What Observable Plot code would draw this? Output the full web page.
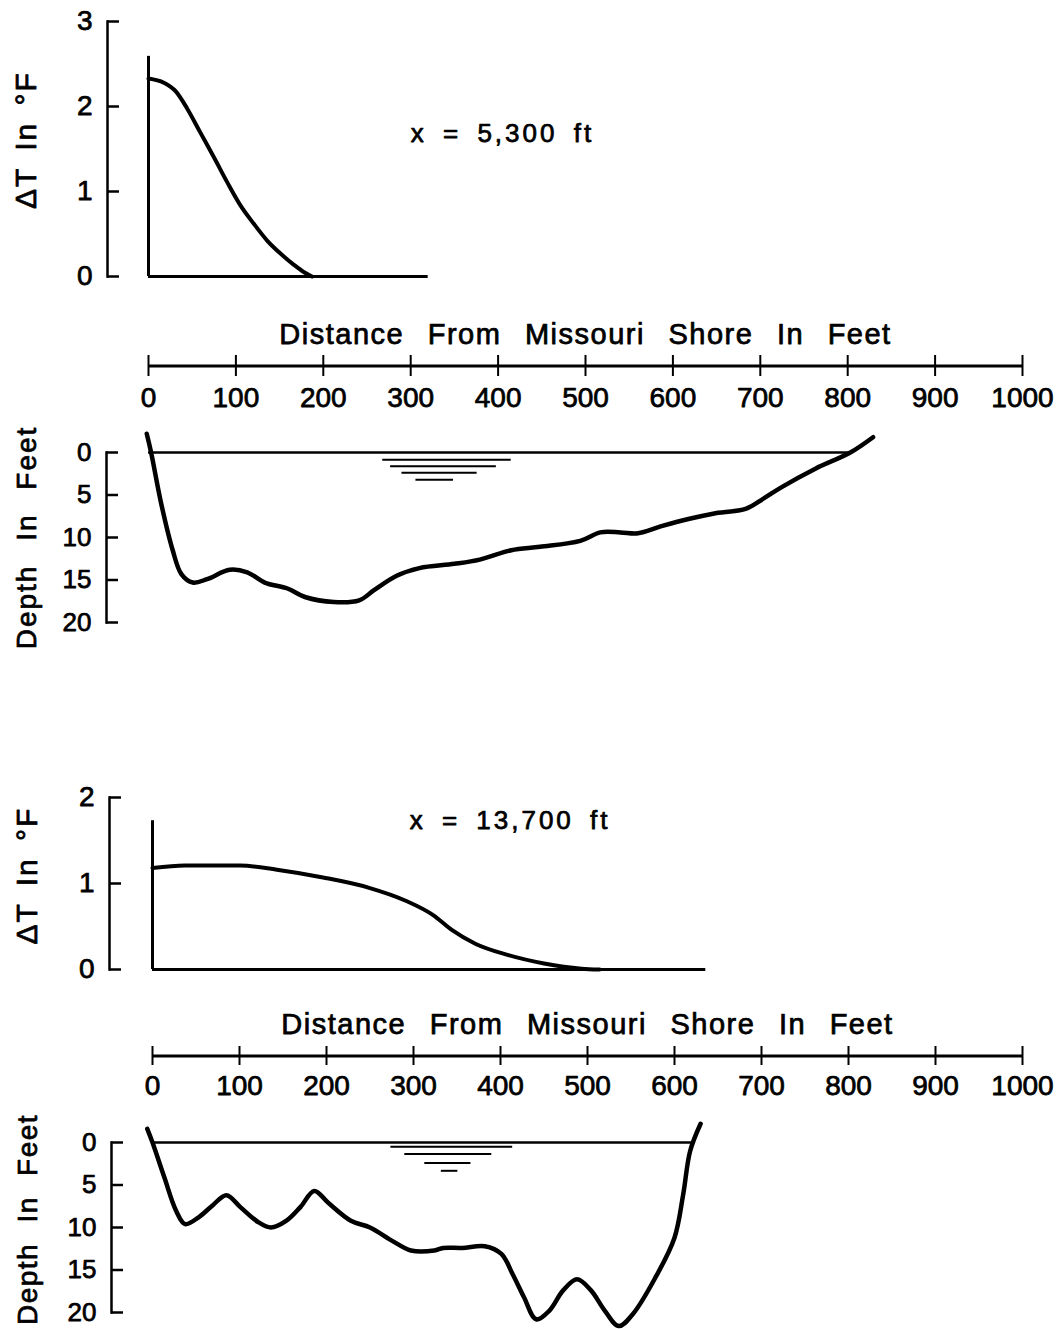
<!DOCTYPE html>
<html>
<head>
<meta charset="utf-8">
<script src="https://cdn.jsdelivr.net/npm/d3@7"></script>
<script src="https://cdn.jsdelivr.net/npm/@observablehq/plot@0.6"></script>
<style>
  html, body { margin: 0; padding: 0; background: #fff; }
  #figure { position: relative; width: 1064px; height: 1329px; overflow: hidden; background: #fff; }
  #figure svg { position: absolute; left: 0; }
</style>
</head>
<body>
<div id="figure"></div>
<script>
// ---- Tick values ----
const distanceTicks = [0, 100, 200, 300, 400, 500, 600, 700, 800, 900, 1000];
const tempTicksUpper = [0, 1, 2, 3];
const tempTicksLower = [0, 1, 2];
const depthTicks = [0, 5, 10, 15, 20];

// ---- Section at x = 5,300 ft ----
// excess temperature (°F) vs. distance from the Missouri shore (ft)
const tempUpper = [
  {d: 0, t: 2.33}, {d: 17.5, t: 2.28}, {d: 31, t: 2.18}, {d: 44, t: 1.98},
  {d: 59.5, t: 1.69}, {d: 75, t: 1.40}, {d: 90, t: 1.11}, {d: 105, t: 0.84},
  {d: 120.5, t: 0.62}, {d: 136, t: 0.42}, {d: 151, t: 0.27}, {d: 166, t: 0.14},
  {d: 178, t: 0.05}, {d: 187, t: 0}
];
const tempUpperWall = [2.59];     // ΔT at the shore line
const tempUpperReach = [320];     // extent of the zero line (ft)

// river bed depth (ft) vs. distance (ft)
const bedUpper = [
  {d: -2, z: -2.2}, {d: 3, z: 0}, {d: 14.5, z: 6.0}, {d: 27.7, z: 11.5}, {d: 37.6, z: 14.3},
  {d: 50.7, z: 15.3}, {d: 67, z: 14.9}, {d: 93, z: 13.8}, {d: 113, z: 14.1}, {d: 133, z: 15.3},
  {d: 159, z: 16.0}, {d: 179, z: 17.0}, {d: 212, z: 17.6}, {d: 241, z: 17.4}, {d: 258, z: 16.2},
  {d: 284, z: 14.5}, {d: 310, z: 13.6}, {d: 350, z: 13.1}, {d: 379, z: 12.6}, {d: 415, z: 11.5},
  {d: 448, z: 11.1}, {d: 494, z: 10.4}, {d: 517, z: 9.4}, {d: 540, z: 9.4}, {d: 560, z: 9.5},
  {d: 586, z: 8.7}, {d: 619, z: 7.8}, {d: 646, z: 7.2}, {d: 684, z: 6.6}, {d: 704, z: 5.4},
  {d: 724, z: 4.1}, {d: 763, z: 1.9}, {d: 803, z: 0}, {d: 829, z: -1.8}
];
const surfaceUpper = [803];       // width of the water surface (ft)
const waterMarkUpper = [
  {x1: 268, x2: 415, z: 0.86}, {x1: 277, x2: 398, z: 1.61},
  {x1: 290, x2: 376, z: 2.39}, {x1: 306, x2: 349, z: 3.2}
];

// ---- Section at x = 13,700 ft ----
const tempLower = [
  {d: 0, t: 1.18}, {d: 37, t: 1.21}, {d: 101, t: 1.21}, {d: 143, t: 1.16},
  {d: 196, t: 1.07}, {d: 249, t: 0.95}, {d: 291, t: 0.80}, {d: 323, t: 0.63},
  {d: 344, t: 0.46}, {d: 371, t: 0.30}, {d: 408, t: 0.17}, {d: 450, t: 0.07},
  {d: 493, t: 0.01}, {d: 514, t: 0}
];
const tempLowerWall = [1.73];
const tempLowerReach = [636];

const bedLower = [
  {d: -6, z: -1.6}, {d: 0, z: 0}, {d: 13.6, z: 4.1}, {d: 27, z: 8.0}, {d: 37.5, z: 9.6},
  {d: 53, z: 8.8}, {d: 69, z: 7.4}, {d: 85, z: 6.2}, {d: 101, z: 7.6}, {d: 122, z: 9.4},
  {d: 136, z: 10.0}, {d: 154, z: 9.2}, {d: 170, z: 7.6}, {d: 186, z: 5.7}, {d: 202, z: 7.1},
  {d: 228, z: 9.2}, {d: 250, z: 10.0}, {d: 276, z: 11.6}, {d: 297, z: 12.7}, {d: 324, z: 12.7},
  {d: 334, z: 12.4}, {d: 356, z: 12.4}, {d: 382, z: 12.2}, {d: 401, z: 13.1}, {d: 414, z: 15.5},
  {d: 427, z: 18.2}, {d: 441, z: 20.8}, {d: 456, z: 19.8}, {d: 472, z: 17.4}, {d: 488, z: 16.1},
  {d: 504, z: 17.4}, {d: 520, z: 19.8}, {d: 536, z: 21.6}, {d: 552, z: 20.2}, {d: 578, z: 15.9},
  {d: 600, z: 11.2}, {d: 610, z: 6.1}, {d: 618, z: 1.0}, {d: 630, z: -2.2}
];
const surfaceLower = [621];
const waterMarkLower = [
  {x1: 274, x2: 414, z: 0.5}, {x1: 290, x2: 390, z: 1.36},
  {x1: 313, x2: 366, z: 2.42}, {x1: 332, x2: 351, z: 3.33}
];

// ---- Labels ----
const distanceTitle = "Distance From Missouri Shore In Feet";
const tempTitle = "ΔT In °F";
const depthTitle = "Depth In Feet";
const sectionUpper = "x = 5,300 ft";
const sectionLower = "x = 13,700 ft";

// ---- Drawing ----
const W = 1064;
const FONT = "'Liberation Sans', Arial, 'DejaVu Sans', sans-serif";
const INK = 0.75;  // extra text weight, drawn as a thin outline under the glyphs
const intFormat = d3.format("d");
const fig = document.getElementById("figure");

function baseStyle(size) {
  return {fontFamily: FONT, fontSize: size + "px", color: "#000", background: "transparent", overflow: "visible"};
}

// letter / word spacing for the text elements carrying a given string
function spacing(svg, content, letter, word) {
  svg.querySelectorAll("text").forEach((t) => {
    if (t.textContent === content) {
      t.style.letterSpacing = letter + "px";
      t.style.wordSpacing = word + "px";
    }
  });
  return svg;
}

function put(svg, top) {
  svg.style.top = top + "px";
  fig.appendChild(svg);
}

const heavy = {fill: "black", stroke: "black", strokeWidth: INK};

// Temperature profile: bracket axis on the left, wall at the shore, zero line, curve
function temperaturePanel(o) {
  const svg = Plot.plot({
    width: W, height: o.height,
    marginLeft: o.axisAt, marginRight: 0, marginTop: o.marginTop, marginBottom: o.marginBottom,
    x: {domain: [0, 1000], range: o.xRange, axis: null},
    y: {domain: [0, o.ticks[o.ticks.length - 1]]},
    style: baseStyle(28),
    marks: [
      Plot.frame({anchor: "left", strokeWidth: 2.5}),
      Plot.axisY({ticks: o.ticks, tickSize: -12, strokeWidth: 2.5, fill: "none"}),
      Plot.axisY({ticks: o.ticks, tickSize: 0, tickPadding: 15, tickFormat: intFormat, label: null,
        textStroke: "black", textStrokeWidth: INK}),
      Plot.text([tempTitle], {frameAnchor: "left", textAnchor: "middle", rotate: -90, dx: o.titleDx, dy: o.titleDy,
        fontSize: 30, ...heavy}),
      Plot.ruleX([0], {y1: 0, y2: o.wall[0], strokeWidth: 3}),
      Plot.ruleY([0], {x1: 0, x2: o.reach[0], strokeWidth: 3}),
      Plot.line(o.data, {x: "d", y: "t", curve: "monotone-x", strokeWidth: 4}),
      Plot.text([o.note], {x: o.noteAt[0], y: o.noteAt[1], fontSize: 26, ...heavy})
    ]
  });
  spacing(svg, tempTitle, 2, 6);
  return spacing(svg, o.note, 3, 6);
}

// Shared distance scale drawn as a free-standing axis
function distancePanel(o) {
  const svg = Plot.plot({
    width: W, height: o.height,
    marginLeft: o.xRange[0], marginRight: W - o.xRange[1],
    marginTop: o.marginTop, marginBottom: o.marginBottom,
    x: {domain: [0, 1000]},
    y: {domain: [-1, 1], axis: null},
    style: baseStyle(28),
    marks: [
      Plot.ruleY([0], {strokeWidth: 3}),
      Plot.tickX(distanceTicks, {x: (d) => d, strokeWidth: 2}),
      Plot.axisX({ticks: distanceTicks, anchor: "bottom", tickSize: 0, tickPadding: o.labelGap,
        tickFormat: intFormat, label: null, textStroke: "black", textStrokeWidth: INK}),
      Plot.text([distanceTitle], {frameAnchor: "top", lineAnchor: "bottom", dy: o.titleDy, fontSize: 29, ...heavy})
    ]
  });
  return spacing(svg, distanceTitle, 1.5, 14);
}

// Channel cross-section: depth axis, water surface, water-level symbol, bed profile
function depthPanel(o) {
  const svg = Plot.plot({
    width: W, height: o.height,
    marginLeft: o.axisAt, marginRight: 0, marginTop: o.marginTop, marginBottom: o.marginBottom,
    x: {domain: [0, 1000], range: o.xRange, axis: null},
    y: {domain: [0, 20], reverse: true},
    style: baseStyle(26),
    marks: [
      Plot.frame({anchor: "left", strokeWidth: 2.5}),
      Plot.axisY({ticks: depthTicks, tickSize: -12, strokeWidth: 2.5, fill: "none"}),
      Plot.axisY({ticks: depthTicks, tickSize: 0, tickPadding: 15, tickFormat: intFormat, label: null,
        textStroke: "black", textStrokeWidth: INK}),
      Plot.text([depthTitle], {frameAnchor: "left", textAnchor: "middle", rotate: -90, dx: o.titleDx, dy: o.titleDy,
        fontSize: 28, ...heavy}),
      Plot.ruleY([0], {x1: 0, x2: o.surface[0], strokeWidth: 2.5}),
      Plot.ruleY(o.mark, {x1: "x1", x2: "x2", y: "z", strokeWidth: 2}),
      Plot.line(o.bed, {x: "d", y: "z", curve: "catmull-rom", strokeWidth: 4.5})
    ]
  });
  return spacing(svg, depthTitle, o.titleSpacing[0], o.titleSpacing[1]);
}

const rangeUpper = [148, 1022];
const rangeLower = [152, 1022];

put(temperaturePanel({
  height: 300, axisAt: 107, marginTop: 21, marginBottom: 24, xRange: rangeUpper,
  ticks: tempTicksUpper, data: tempUpper, wall: tempUpperWall, reach: tempUpperReach,
  note: sectionUpper, noteAt: [405, 1.68], titleDx: -81, titleDy: -9
}), 0);

put(distancePanel({
  height: 120, xRange: rangeUpper, marginTop: 55, marginBottom: 44, labelGap: 11, titleDy: -12
}), 300);

put(depthPanel({
  height: 230, axisAt: 106, marginTop: 32, marginBottom: 28, xRange: rangeUpper,
  bed: bedUpper, surface: surfaceUpper, mark: waterMarkUpper, titleDx: -79, titleDy: 0,
  titleSpacing: [2, 14]
}), 420);

put(temperaturePanel({
  height: 210, axisAt: 109, marginTop: 17, marginBottom: 21, xRange: rangeLower,
  ticks: tempTicksLower, data: tempLower, wall: tempLowerWall, reach: tempLowerReach,
  note: sectionLower, noteAt: [411, 1.73], titleDx: -82, titleDy: -8
}), 780);

put(distancePanel({
  height: 110, xRange: rangeLower, marginTop: 56, marginBottom: 35, labelGap: 10, titleDy: -13
}), 990);

put(depthPanel({
  height: 219, axisAt: 111, marginTop: 32, marginBottom: 17, xRange: rangeLower,
  bed: bedLower, surface: surfaceLower, mark: waterMarkLower, titleDx: -83, titleDy: -8,
  titleSpacing: [1.5, 11]
}), 1110);
</script>
</body>
</html>
